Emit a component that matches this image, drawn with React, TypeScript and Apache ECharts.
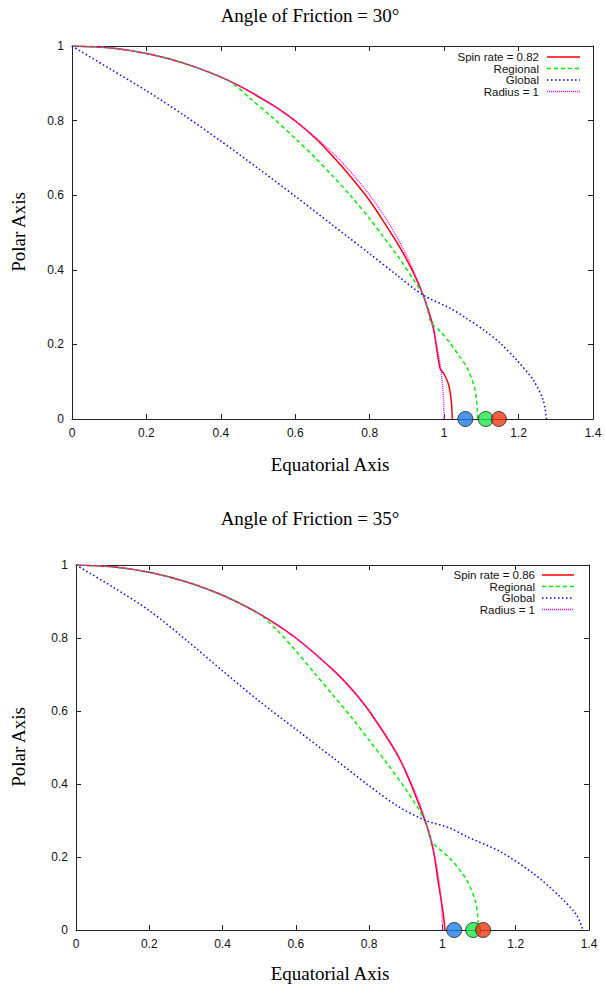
import React, { useEffect, useRef } from "react";
import * as echarts from "echarts";

// ---------- data ----------
const titles = ["Angle of Friction = 30°", "Angle of Friction = 35°"];
const xAxisTitle = "Equatorial Axis";
const yAxisTitle = "Polar Axis";
const legendNames30 = ["Spin rate = 0.82", "Regional", "Global", "Radius = 1"];
const legendNames35 = ["Spin rate = 0.86", "Regional", "Global", "Radius = 1"];

const radiusOne = [
  [0, 1], [0.1, 0.995], [0.2, 0.98], [0.3, 0.954], [0.4, 0.917], [0.5, 0.866],
  [0.6, 0.8], [0.7, 0.714], [0.75, 0.661], [0.8, 0.6], [0.85, 0.527], [0.9, 0.436],
  [0.94, 0.341], [0.97, 0.243], [0.99, 0.141], [0.998, 0.06], [1, 0],
];

const spin30 = [
  [0, 1], [0.1, 0.995], [0.2, 0.98], [0.3, 0.954], [0.421, 0.907], [0.537, 0.843],
  [0.6, 0.799], [0.657, 0.75], [0.7, 0.705], [0.75, 0.648], [0.8, 0.585], [0.84, 0.525],
  [0.881, 0.46], [0.915, 0.397], [0.944, 0.332], [0.958, 0.29], [0.971, 0.245],
  [0.989, 0.136], [1.0, 0.12], [1.012, 0.092], [1.019, 0.05], [1.022, 0],
];
const regional30 = [
  [0, 1], [0.1, 0.995], [0.2, 0.98], [0.3, 0.954], [0.421, 0.907], [0.478, 0.86],
  [0.537, 0.81], [0.6, 0.752], [0.657, 0.697], [0.7, 0.652], [0.75, 0.597], [0.8, 0.537],
  [0.837, 0.488], [0.88, 0.43], [0.92, 0.37], [0.944, 0.332], [0.955, 0.295],
  [0.966, 0.257], [0.99, 0.235], [1.016, 0.203], [1.04, 0.17], [1.06, 0.14],
  [1.075, 0.105], [1.083, 0.078], [1.088, 0.04], [1.09, 0],
];
const global30 = [
  [0, 1], [0.1, 0.94], [0.2, 0.88], [0.3, 0.815], [0.4, 0.745], [0.5, 0.672],
  [0.6, 0.597], [0.7, 0.52], [0.8, 0.443], [0.87, 0.388], [0.944, 0.332],
  [1.016, 0.297], [1.06, 0.27], [1.11, 0.236], [1.15, 0.204], [1.195, 0.158],
  [1.239, 0.105], [1.266, 0.051], [1.275, 0],
];
const markers30 = [1.057, 1.112, 1.147];

const spin35 = [
  [0, 1], [0.1, 0.995], [0.2, 0.98], [0.3, 0.954], [0.4, 0.917], [0.497, 0.868],
  [0.6, 0.8], [0.7, 0.714], [0.748, 0.665], [0.8, 0.6], [0.884, 0.467], [0.952, 0.301],
  [0.975, 0.219], [0.989, 0.128], [0.998, 0.073], [1.004, 0.03], [1.007, 0],
];
const regional35 = [
  [0, 1], [0.1, 0.995], [0.2, 0.98], [0.3, 0.954], [0.4, 0.917], [0.497, 0.868],
  [0.55, 0.82], [0.6, 0.765], [0.65, 0.705], [0.7, 0.645], [0.75, 0.585], [0.8, 0.52],
  [0.85, 0.455], [0.9, 0.385], [0.952, 0.301], [0.971, 0.242], [1.021, 0.196],
  [1.066, 0.137], [1.089, 0.082], [1.096, 0.04], [1.098, 0],
];
const global35 = [
  [0, 1], [0.1, 0.94], [0.2, 0.875], [0.3, 0.795], [0.4, 0.71], [0.5, 0.627],
  [0.6, 0.55], [0.7, 0.473], [0.8, 0.395], [0.88, 0.338], [0.952, 0.301],
  [1.021, 0.279], [1.066, 0.256], [1.157, 0.215], [1.248, 0.155], [1.321, 0.091],
  [1.366, 0.041], [1.383, 0],
];
const markers35 = [1.032, 1.084, 1.111];

// ---------- layout / style ----------
const grids = [
  { left: 72, top: 46, width: 521, height: 373 },
  { left: 76, top: 565, width: 513, height: 365 },
];
const lineColors = ["#ff0000", "#00ee00", "#0000ff", "#ff00ff"];
const markerColors = ["#1e7de6", "#1ee64a", "#ee3a12"];
const axisColor = "#222";
const sans = "Liberation Sans";
const serif = "Liberation Serif";

function makeAxis(kind: "x" | "y", gridIndex: number, mirror: boolean) {
  const isX = kind === "x";
  return {
    type: "value",
    gridIndex,
    min: 0,
    max: isX ? 1.4 : 1,
    interval: 0.2,
    position: isX ? (mirror ? "top" : "bottom") : mirror ? "right" : "left",
    axisLine: { show: true, onZero: false, lineStyle: { color: axisColor, width: 1 } },
    axisTick: { show: true, inside: true, length: 5, lineStyle: { color: axisColor, width: 1 } },
    axisLabel: {
      show: !mirror,
      margin: 8,
      fontSize: 12,
      fontFamily: sans,
      color: "#111",
    },
    splitLine: { show: false },
  };
}

function legendGraphics(names: string[], textRight: number, lineX0: number, lineX1: number, rowY0: number) {
  const els: any[] = [];
  const dashes: any[] = [null, [4, 3], [1.5, 2.5], [1, 1]];
  names.forEach((n, i) => {
    const y = rowY0 + i * 11.5;
    els.push({
      type: "text",
      x: textRight,
      y,
      style: { text: n, fill: "#111", font: `11.5px ${sans}`, textAlign: "right", textVerticalAlign: "middle" },
    });
    els.push({
      type: "line",
      shape: { x1: lineX0, y1: y, x2: lineX1, y2: y },
      style: { stroke: lineColors[i], lineWidth: i === 3 ? 1.3 : 1.5, lineDash: dashes[i] },
    });
  });
  return els;
}

export default function App() {
  const ref = useRef<HTMLDivElement>(null);
  useEffect(() => {
    if (!ref.current) return;
    const chart = echarts.init(ref.current, null, { renderer: "svg" });

    const lineSeries = (data: number[][], g: number, color: string, kind: number) => ({
      type: "line",
      xAxisIndex: g * 2,
      yAxisIndex: g * 2,
      data,
      showSymbol: false,
      symbol: "none",
      smooth: 0.3,
      z: 2 + kind,
      lineStyle: {
        color,
        width: kind === 3 ? 1.3 : 1.5,
        type: kind === 0 ? "solid" : kind === 1 ? [4, 3] : kind === 2 ? [1.5, 2.5] : [1, 1],
      },
      silent: true,
    });
    const markerSeries = (x: number, g: number, color: string, k: number) => ({
      type: "scatter",
      xAxisIndex: g * 2,
      yAxisIndex: g * 2,
      data: [[x, 0]],
      symbol: "circle",
      symbolSize: 15,
      clip: false,
      z: 10 + k,
      itemStyle: { color, borderColor: "#222", borderWidth: 1 },
      silent: true,
    });

    const sets = [
      { lines: [spin30, regional30, global30, radiusOne], markers: markers30 },
      { lines: [spin35, regional35, global35, radiusOne], markers: markers35 },
    ];
    const series: any[] = [];
    sets.forEach((s, g) => {
      s.lines.forEach((d, k) => series.push(lineSeries(d, g, lineColors[k], k)));
      s.markers.forEach((x, k) => series.push(markerSeries(x, g, markerColors[k], k)));
    });

    const txt = (text: string, x: number, y: number, rot = 0) => ({
      type: "text",
      x,
      y,
      rotation: rot,
      style: { text, font: `19px ${serif}`, fill: "#000", textAlign: "center", textVerticalAlign: "middle" },
    });

    const graphic: any[] = [
      txt(titles[0], 310, 15),
      txt(titles[1], 310, 518),
      txt(xAxisTitle, 330, 464),
      txt(xAxisTitle, 330, 973),
      txt(yAxisTitle, 18, 232, Math.PI / 2),
      txt(yAxisTitle, 18, 747, Math.PI / 2),
      ...legendGraphics(legendNames30, 539, 547, 580, 57),
      ...legendGraphics(legendNames35, 535, 542, 574, 575),
    ];

    chart.setOption({
      animation: false,
      backgroundColor: "#fff",
      grid: grids.map((g) => ({ ...g, containLabel: false })),
      xAxis: [makeAxis("x", 0, false), makeAxis("x", 0, true), makeAxis("x", 1, false), makeAxis("x", 1, true)],
      yAxis: [makeAxis("y", 0, false), makeAxis("y", 0, true), makeAxis("y", 1, false), makeAxis("y", 1, true)],
      series,
      graphic,
    });
    return () => chart.dispose();
  }, []);
  return <div ref={ref} style={{ position: "fixed", left: 0, top: 0, width: 605, height: 991 }} />;
}
